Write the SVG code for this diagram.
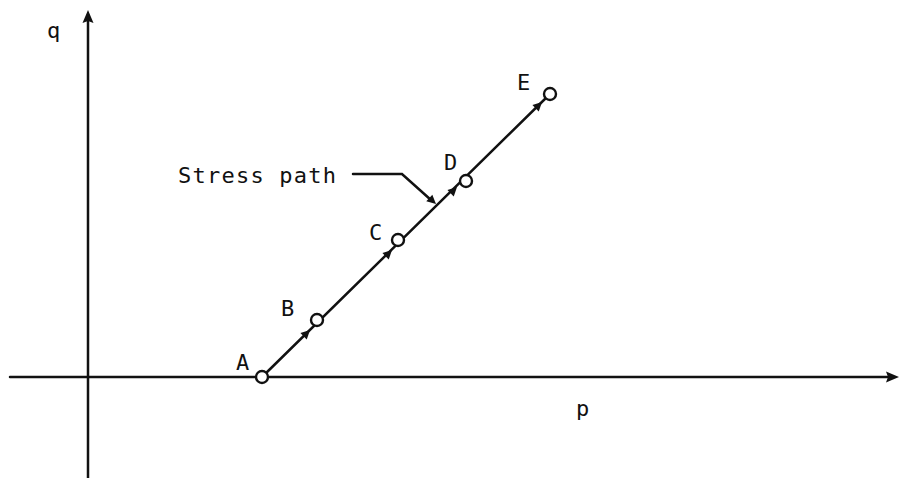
<svg xmlns="http://www.w3.org/2000/svg" width="904" height="478" viewBox="0 0 904 478">
<style>
.ln{stroke:#111;stroke-width:2.5;fill:none;stroke-linecap:round}
.pt{fill:#fff;stroke:#111;stroke-width:2.4}
.lb{font-family:"DejaVu Sans Mono","Liberation Mono",monospace;font-size:22px;fill:#111}
.ah{fill:#111}
</style>
<defs>
<path id="head" d="M0,0 L-9,-4.5 L-9,4.5 Z"/>
<path id="bighead" d="M0,0 L-13,-5.5 L-11,0 L-13,5.5 Z"/>
</defs>
<rect width="904" height="478" fill="#fff"/>
<g id="axes">
<line class="ln" x1="88" y1="20" x2="88" y2="478"/>
<use href="#bighead" class="ah" transform="translate(88,10) rotate(-90)"/>
<line class="ln" x1="10" y1="377" x2="890" y2="377"/>
<use href="#bighead" class="ah" transform="translate(899,377)"/>
<text class="lb" x="47" y="38">q</text>
<text class="lb" x="576" y="416">p</text>
</g>
<g id="connectors">
<line class="ln" x1="262" y1="377" x2="549" y2="95"/>
<use href="#head" class="ah" transform="translate(310,330) rotate(-44.5)"/>
<use href="#head" class="ah" transform="translate(392,250) rotate(-44.5)"/>
<use href="#head" class="ah" transform="translate(457,187) rotate(-44.5)"/>
<use href="#head" class="ah" transform="translate(542,102) rotate(-44.5)"/>
<polyline class="ln" points="353,174 402,174 431,200"/>
<use href="#head" class="ah" transform="translate(436,204) rotate(42)"/>
<text class="lb" x="178" y="183" textLength="158">Stress path</text>
</g>
<g id="A"><circle class="pt" cx="262" cy="377" r="6"/><text class="lb" x="236" y="370">A</text></g>
<g id="B"><circle class="pt" cx="317" cy="320" r="6"/><text class="lb" x="281" y="316">B</text></g>
<g id="C"><circle class="pt" cx="398" cy="240" r="6"/><text class="lb" x="369" y="240">C</text></g>
<g id="D"><circle class="pt" cx="466" cy="181" r="6"/><text class="lb" x="444" y="170">D</text></g>
<g id="E"><circle class="pt" cx="550" cy="94" r="6"/><text class="lb" x="517" y="90">E</text></g>
</svg>
